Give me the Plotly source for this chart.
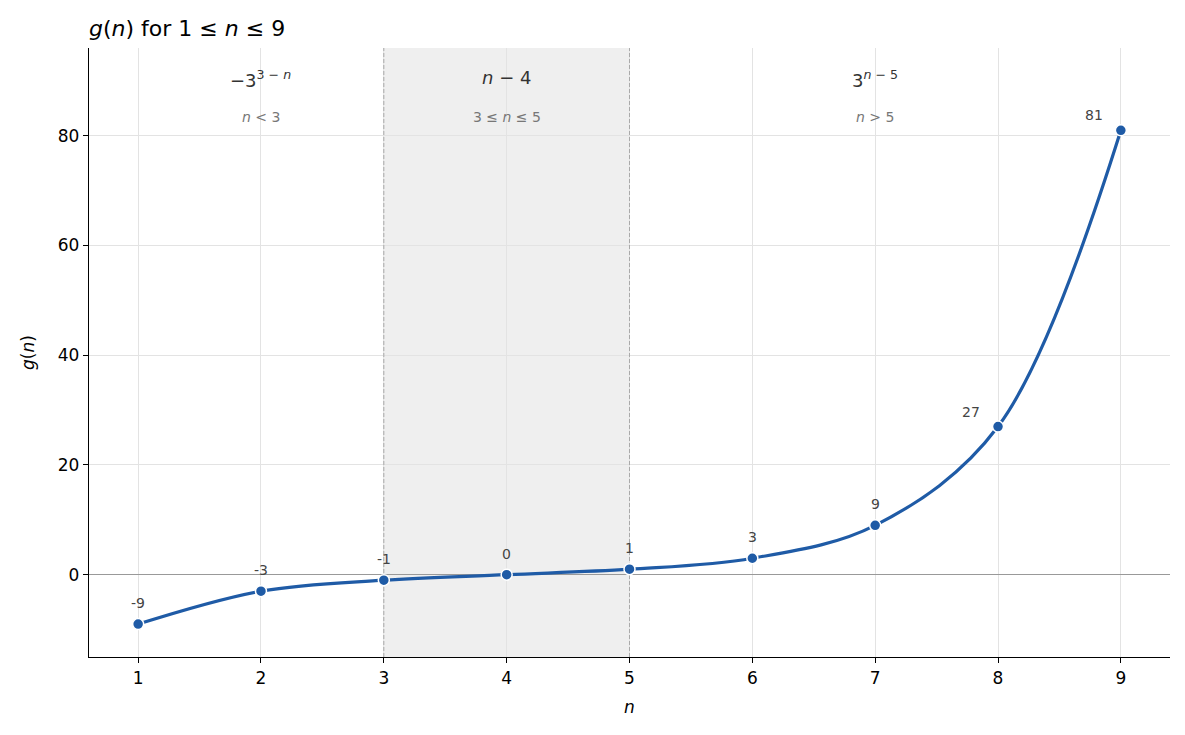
import plotly.graph_objects as go

n_values = [1, 2, 3, 4, 5, 6, 7, 8, 9]
g_values = [-9, -3, -1, 0, 1, 3, 9, 27, 81]
point_labels = ["-9", "-3", "-1", "0", "1", "3", "9", "27", "81"]
x_ticks = [1, 2, 3, 4, 5, 6, 7, 8, 9]
y_ticks = [0, 20, 40, 60, 80]
region_x = [2, 4, 7]
region_formulas = ["−3<sup>3 − <i>n</i></sup>", "<i>n</i> − 4", "3<sup><i>n</i> − 5</sup>"]
region_conditions = ["<i>n</i> < 3", "3 ≤ <i>n</i> ≤ 5", "<i>n</i> > 5"]
shade_start, shade_end = 3, 5
x_range = [0.6, 9.4]
y_range = [-15, 96]

BLUE = "#1f5ba6"
FONT = "DejaVu Sans"
W, H = 1177, 727  # page body has an 8px margin

fig = go.Figure()

fig.add_vrect(x0=shade_start, x1=shade_end, fillcolor="#efefef", line_width=0, layer="below")

# dashed boundaries as traces so they sit above the grid but below the curve
fig.add_trace(go.Scatter(
    x=[shade_start, shade_start, None, shade_end, shade_end],
    y=[y_range[0], y_range[1], None, y_range[0], y_range[1]],
    mode="lines", line=dict(color="#aaaaaa", width=1, dash="4px,2px"),
    hoverinfo="skip", showlegend=False,
))

fig.add_trace(go.Scatter(
    x=n_values, y=g_values, mode="lines+markers",
    line=dict(color=BLUE, width=3.2, shape="spline", smoothing=1.0),
    marker=dict(color=BLUE, size=11, line=dict(color="white", width=1.5)),
    hoverinfo="skip", showlegend=False,
))

for xv, yv, lab in zip(n_values, g_values, point_labels):
    if xv >= 8:
        fig.add_annotation(x=xv, y=yv, text=lab, showarrow=False,
                           xanchor="right", yanchor="bottom", xshift=-16, yshift=5,
                           font=dict(family=FONT, size=14, color="#444444"))
    else:
        fig.add_annotation(x=xv, y=yv, text=lab, showarrow=False,
                           xanchor="center", yanchor="bottom", yshift=11,
                           font=dict(family=FONT, size=14, color="#444444"))

for xv, ftxt, ctxt in zip(region_x, region_formulas, region_conditions):
    fig.add_annotation(x=xv, y=1, xref="x", yref="paper", text=ftxt, showarrow=False,
                       yanchor="top", yshift=-17,
                       font=dict(family=FONT, size=18, color="#333333"))
    fig.add_annotation(x=xv, y=1, xref="x", yref="paper", text=ctxt, showarrow=False,
                       yanchor="top", yshift=-59,
                       font=dict(family=FONT, size=14, color="#777777"))

fig.update_layout(
    width=W, height=H,
    paper_bgcolor="white", plot_bgcolor="white",
    margin=dict(l=81, r=15, t=40, b=78),
    font=dict(family=FONT, size=17, color="black"),
    title=dict(text="<i>g</i>(<i>n</i>) for 1 ≤ <i>n</i> ≤ 9", x=81/W, xanchor="left",
               y=1 - 20/H, yanchor="middle", font=dict(family=FONT, size=22, color="black")),
    showlegend=False,
)
fig.update_xaxes(range=x_range, tickvals=x_ticks, showgrid=True, gridcolor="#e3e3e3",
                 showline=True, linecolor="black", linewidth=1.4, ticks="outside", ticklen=5,
                 tickcolor="black", zeroline=False,
                 title=dict(text="<i>n</i>", font=dict(family=FONT, size=17), standoff=14))
fig.update_yaxes(range=y_range, tickvals=y_ticks, showgrid=True, gridcolor="#e3e3e3",
                 showline=True, linecolor="black", linewidth=1.4, ticks="outside", ticklen=5,
                 tickcolor="black", zeroline=True, zerolinecolor="#999999", zerolinewidth=1,
                 title=dict(text="<i>g</i>(<i>n</i>)", font=dict(family=FONT, size=17), standoff=18))

fig.write_html("out.html")
